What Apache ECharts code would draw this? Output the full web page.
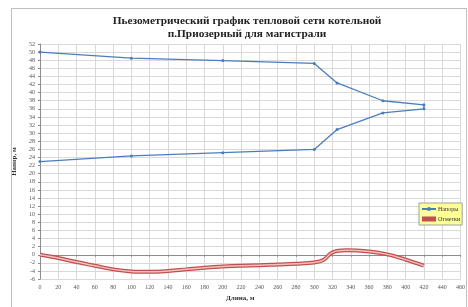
<!DOCTYPE html>
<html>
<head>
<meta charset="utf-8">
<script src="https://cdn.jsdelivr.net/npm/echarts@6/dist/echarts.min.js"></script>
<style>
  html, body { margin: 0; padding: 0; background: #fff; }
  #frame { position: absolute; left: 11px; top: 8px; width: 454px; height: 310px; border: 1px solid #bfbfbf; }
  #chart { position: absolute; left: 0; top: 0; width: 468px; height: 307px; }
</style>
</head>
<body>
<div id="frame"></div>
<div id="chart"></div>
<script>
// точки трассы, м
var pointsX = [0, 100, 200, 300, 325, 375, 420];
// подающий и обратный напор, м
var supplyHead = [50, 48.5, 47.9, 47.2, 42.4, 38, 37];
var returnHead = [23, 24.4, 25.2, 26, 30.9, 35, 36];
// отметки земли
var groundX = [0, 20, 40, 60, 80, 100, 120, 140, 160, 180, 200, 220, 240, 260, 280, 300, 310, 320, 335, 360, 380, 400, 420];
var groundZ = [0, -0.8, -1.8, -2.7, -3.6, -4.1, -4.2, -4.0, -3.6, -3.2, -2.9, -2.7, -2.6, -2.4, -2.2, -1.9, -1.3, 0.6, 1.1, 0.8, 0.1, -1.2, -2.7];

var headData = [];
for (var i = 0; i < pointsX.length; i++) headData.push([pointsX[i], supplyHead[i]]);
for (var j = pointsX.length - 1; j >= 0; j--) headData.push([pointsX[j], returnHead[j]]);
var groundData = groundX.map(function (x, k) { return [x, groundZ[k]]; });

var chart = echarts.init(document.getElementById('chart'));
var serif = 'Liberation Serif';

var option = {
    animation: false,
    title: {
        text: 'Пьезометрический график тепловой сети котельной\nп.Приозерный для магистрали',
        left: 242,
        textAlign: 'center',
        top: 9,
        textStyle: { fontFamily: serif, fontSize: 11.3, fontWeight: 'bold', color: '#222', lineHeight: 13.5 }
    },
    legend: {
        orient: 'vertical',
        left: 419,
        top: 203,
        padding: [3, 2, 3, 2],
        itemGap: 4,
        itemWidth: 14,
        itemHeight: 5,
        backgroundColor: '#ffff99',
        borderColor: '#a0a0a0',
        borderWidth: 1,
        textStyle: { fontFamily: serif, fontSize: 6, color: '#333', padding: [0, 0, 0, -3] },
        data: ['Напоры', {
            name: 'Отметки',
            icon: 'path://M0,0 L28,0 L28,10 L0,10 Z M0,3 L28,3 L28,7 L0,7 Z',
            itemStyle: { color: '#c0504d', borderColor: '#c0504d' }
        }]
    },
    grid: { left: 40, right: 6, top: 44, bottom: 21 },
    xAxis: {
        type: 'value',
        min: 0, max: 460, interval: 20,
        name: 'Длина, м',
        nameLocation: 'middle',
        nameGap: 12,
        nameTextStyle: { fontFamily: serif, fontSize: 7, fontWeight: 'bold', color: '#333', padding: [0, 0, 0, -20] },
        axisLine: { lineStyle: { color: '#8c8c8c' } },
        axisTick: { length: 2, lineStyle: { color: '#8c8c8c' } },
        axisLabel: { fontFamily: serif, fontSize: 6, color: '#555', margin: 5 },
        splitLine: { lineStyle: { color: '#d9d9d9', width: 1 } }
    },
    yAxis: {
        type: 'value',
        min: -6, max: 52, interval: 2,
        name: 'Напор, м',
        nameLocation: 'middle',
        nameGap: 19,
        nameTextStyle: { fontFamily: serif, fontSize: 7, fontWeight: 'bold', color: '#333' },
        axisLine: { show: true, lineStyle: { color: '#8c8c8c' } },
        axisTick: { show: true, length: 2, lineStyle: { color: '#8c8c8c' } },
        axisLabel: { fontFamily: serif, fontSize: 6, color: '#555', margin: 5 },
        splitLine: { lineStyle: { color: '#d9d9d9', width: 1 } }
    },
    series: [
        {
            name: 'Напоры',
            type: 'line',
            data: headData,
            color: '#4a7ebb',
            symbol: 'circle',
            symbolSize: 3,
            showSymbol: true,
            lineStyle: { width: 1.3, color: '#4a7ebb' },
            itemStyle: { color: '#4a7ebb' }
        },
        {
            name: 'Отметки',
            type: 'line',
            data: groundData,
            smooth: 0.4,
            color: '#c0504d',
            showSymbol: false,
            symbol: 'none',
            lineStyle: { width: 4, color: '#c0504d' }
        },
        {
            name: 'Отметки_inner',
            type: 'line',
            data: groundData,
            smooth: 0.4,
            showSymbol: false,
            symbol: 'none',
            silent: true,
            lineStyle: { width: 1.5, color: '#f3c0be' }
        }
    ]
};

chart.setOption(option);
</script>
</body>
</html>
